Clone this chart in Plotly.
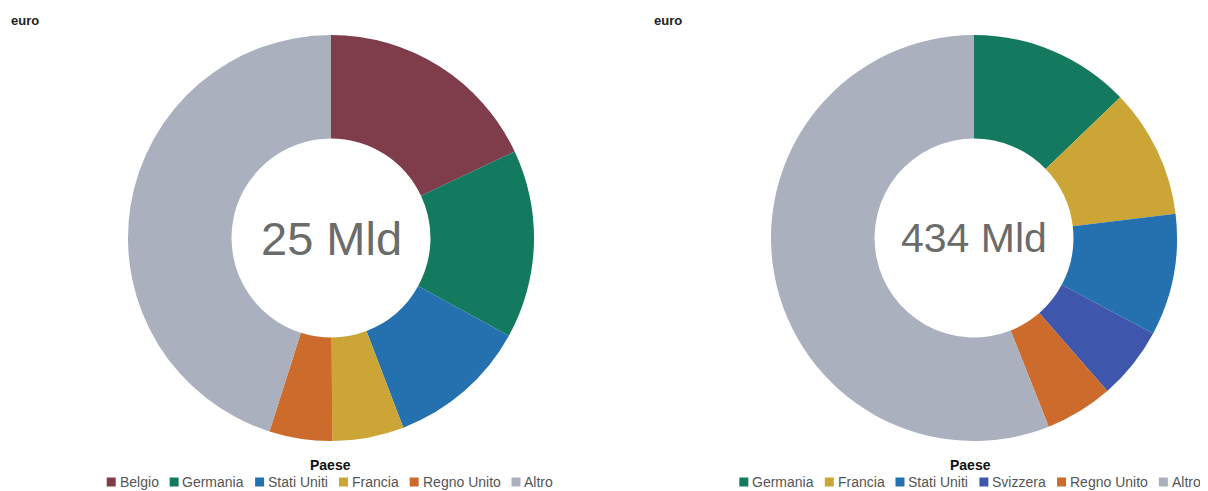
import plotly.graph_objects as go

left_labels = ["Belgio", "Germania", "Stati Uniti", "Francia", "Regno Unito", "Altro"]
left_values = [18.0, 15.0, 11.2, 5.7, 5.0, 45.1]
left_total = "25 Mld"

right_labels = ["Germania", "Francia", "Stati Uniti", "Svizzera", "Regno Unito", "Altro"]
right_values = [12.8, 10.3, 9.7, 5.8, 5.4, 56.0]
right_total = "434 Mld"

unit_label = "euro"
legend_title = "Paese"

colors = {
    "Belgio": "#7f3c4a",
    "Germania": "#137a5f",
    "Stati Uniti": "#2571b0",
    "Francia": "#cba535",
    "Regno Unito": "#cc6b2b",
    "Altro": "#abb0bf",
    "Svizzera": "#3f56ad",
}

# page body has an ~8px margin; figure sized to fit the window
OFF = 8
W, H = 1208 - OFF, 491 - OFF
FONT = "Liberation Sans, Arial, sans-serif"
LEG_SIZE = 14

# Arial / Liberation Sans advance widths (per 1000 em) for legend layout
ARIAL = {
    "a": 556, "b": 556, "c": 500, "d": 556, "e": 556, "f": 278, "g": 556, "h": 556,
    "i": 222, "j": 222, "k": 500, "l": 222, "m": 833, "n": 556, "o": 556, "p": 556,
    "q": 556, "r": 333, "s": 500, "t": 278, "u": 556, "v": 500, "w": 722, "x": 500,
    "y": 500, "z": 500, " ": 278, "A": 667, "B": 667, "F": 611, "G": 778, "R": 722,
    "S": 667, "U": 722,
}


def text_w(s, size=LEG_SIZE):
    return sum(ARIAL.get(c, 556) for c in s) * size / 1000.0


def px(x):
    return (x - OFF) / W


def py(y):
    return (H - (y - OFF)) / H


fig = go.Figure()
fig.add_trace(go.Pie(
    labels=left_labels, values=left_values, hole=0.49, sort=False,
    direction="clockwise", rotation=0, textinfo="none", hoverinfo="label+percent",
    marker=dict(colors=[colors[l] for l in left_labels], line=dict(width=0)),
    domain=dict(x=[px(128), px(534)], y=[py(441), py(35)]),
    showlegend=False,
))
fig.add_trace(go.Pie(
    labels=right_labels, values=right_values, hole=0.49, sort=False,
    direction="clockwise", rotation=0, textinfo="none", hoverinfo="label+percent",
    marker=dict(colors=[colors[l] for l in right_labels], line=dict(width=0)),
    domain=dict(x=[px(771), px(1177)], y=[py(441), py(35)]),
    showlegend=False,
))

annotations = [
    dict(text="<b>" + unit_label + "</b>", x=px(9), y=py(21), xref="paper", yref="paper",
         xanchor="left", yanchor="middle", showarrow=False,
         font=dict(family=FONT, size=13, color="#222222")),
    dict(text="<b>" + unit_label + "</b>", x=px(652), y=py(21), xref="paper", yref="paper",
         xanchor="left", yanchor="middle", showarrow=False,
         font=dict(family=FONT, size=13, color="#222222")),
    dict(text=left_total, x=px(331), y=py(238), xref="paper", yref="paper",
         xanchor="center", yanchor="middle", showarrow=False,
         font=dict(family=FONT, size=47, color="#6b6b6b")),
    dict(text=right_total, x=px(974), y=py(238), xref="paper", yref="paper",
         xanchor="center", yanchor="middle", showarrow=False,
         font=dict(family=FONT, size=41, color="#6b6b6b")),
]
shapes = []

MARK = 9          # legend swatch size
MARK_TO_TEXT = 13  # swatch left edge -> text start
ITEM_GAP = 11     # text end -> next swatch


def add_legend(labels, cx, title_y, item_y):
    annotations.append(dict(
        text="<b>" + legend_title + "</b>", x=px(cx), y=py(title_y), xref="paper", yref="paper",
        xanchor="center", yanchor="middle", showarrow=False,
        font=dict(family=FONT, size=14, color="#111111")))
    widths = [text_w(l) for l in labels]
    total = sum(MARK_TO_TEXT + w for w in widths) + ITEM_GAP * (len(labels) - 1)
    x = cx - total / 2.0
    for lab, w in zip(labels, widths):
        shapes.append(dict(
            type="rect", xref="paper", yref="paper",
            x0=px(x), x1=px(x + MARK), y0=py(item_y + MARK / 2.0), y1=py(item_y - MARK / 2.0),
            fillcolor=colors[lab], line=dict(width=0)))
        tx = x + MARK_TO_TEXT + w / 2.0
        annotations.append(dict(
            text=lab, x=px(tx), y=py(item_y), xref="paper", yref="paper",
            xanchor="center", yanchor="middle", showarrow=False,
            font=dict(family=FONT, size=LEG_SIZE, color="#555555")))
        x += MARK_TO_TEXT + w + ITEM_GAP


add_legend(left_labels, 330, 465, 482)
add_legend(right_labels, 970, 465, 482)

fig.update_layout(
    width=W, height=H,
    margin=dict(l=0, r=0, t=0, b=0),
    paper_bgcolor="white", plot_bgcolor="white",
    font=dict(family=FONT),
    showlegend=False,
    annotations=annotations,
    shapes=shapes,
)

fig.write_html("out.html")
